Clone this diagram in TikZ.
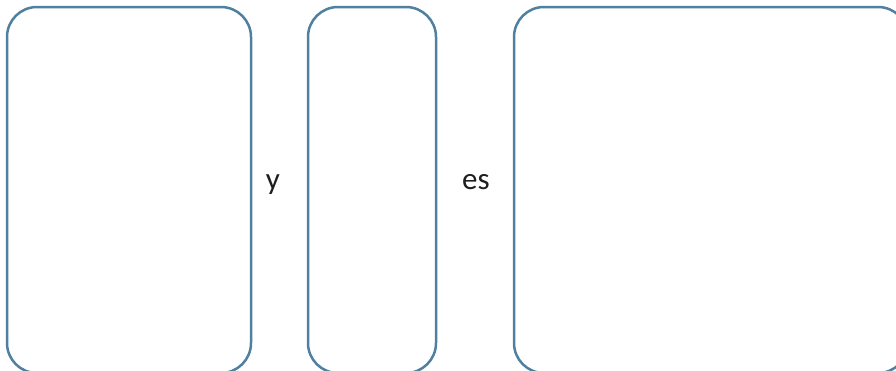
\documentclass[tikz,border=0pt]{standalone}
\usepackage{fontspec}
\setmainfont{Carlito}
\definecolor{boxblue}{RGB}{80,128,160}
\definecolor{txt}{RGB}{30,30,30}
\begin{document}
\begin{tikzpicture}[x=1pt,y=-1pt,
  panel/.style={draw=boxblue,line width=2.5pt,rounded corners=30pt,fill=white},
  word/.style={text=txt,font=\fontsize{31}{36}\selectfont,inner sep=0pt,anchor=base}]
\useasboundingbox (0,0) rectangle (896,370);
\clip (0,0) rectangle (896,370);
\draw[panel] (7,7) rectangle (251,373);
\draw[panel] (308,7) rectangle (436,373);
\draw[panel] (514,7) rectangle (908,373);
\node[word] (y) at (273,189) {y};
\node[word] (es) at (476,189) {es};
\end{tikzpicture}
\end{document}
